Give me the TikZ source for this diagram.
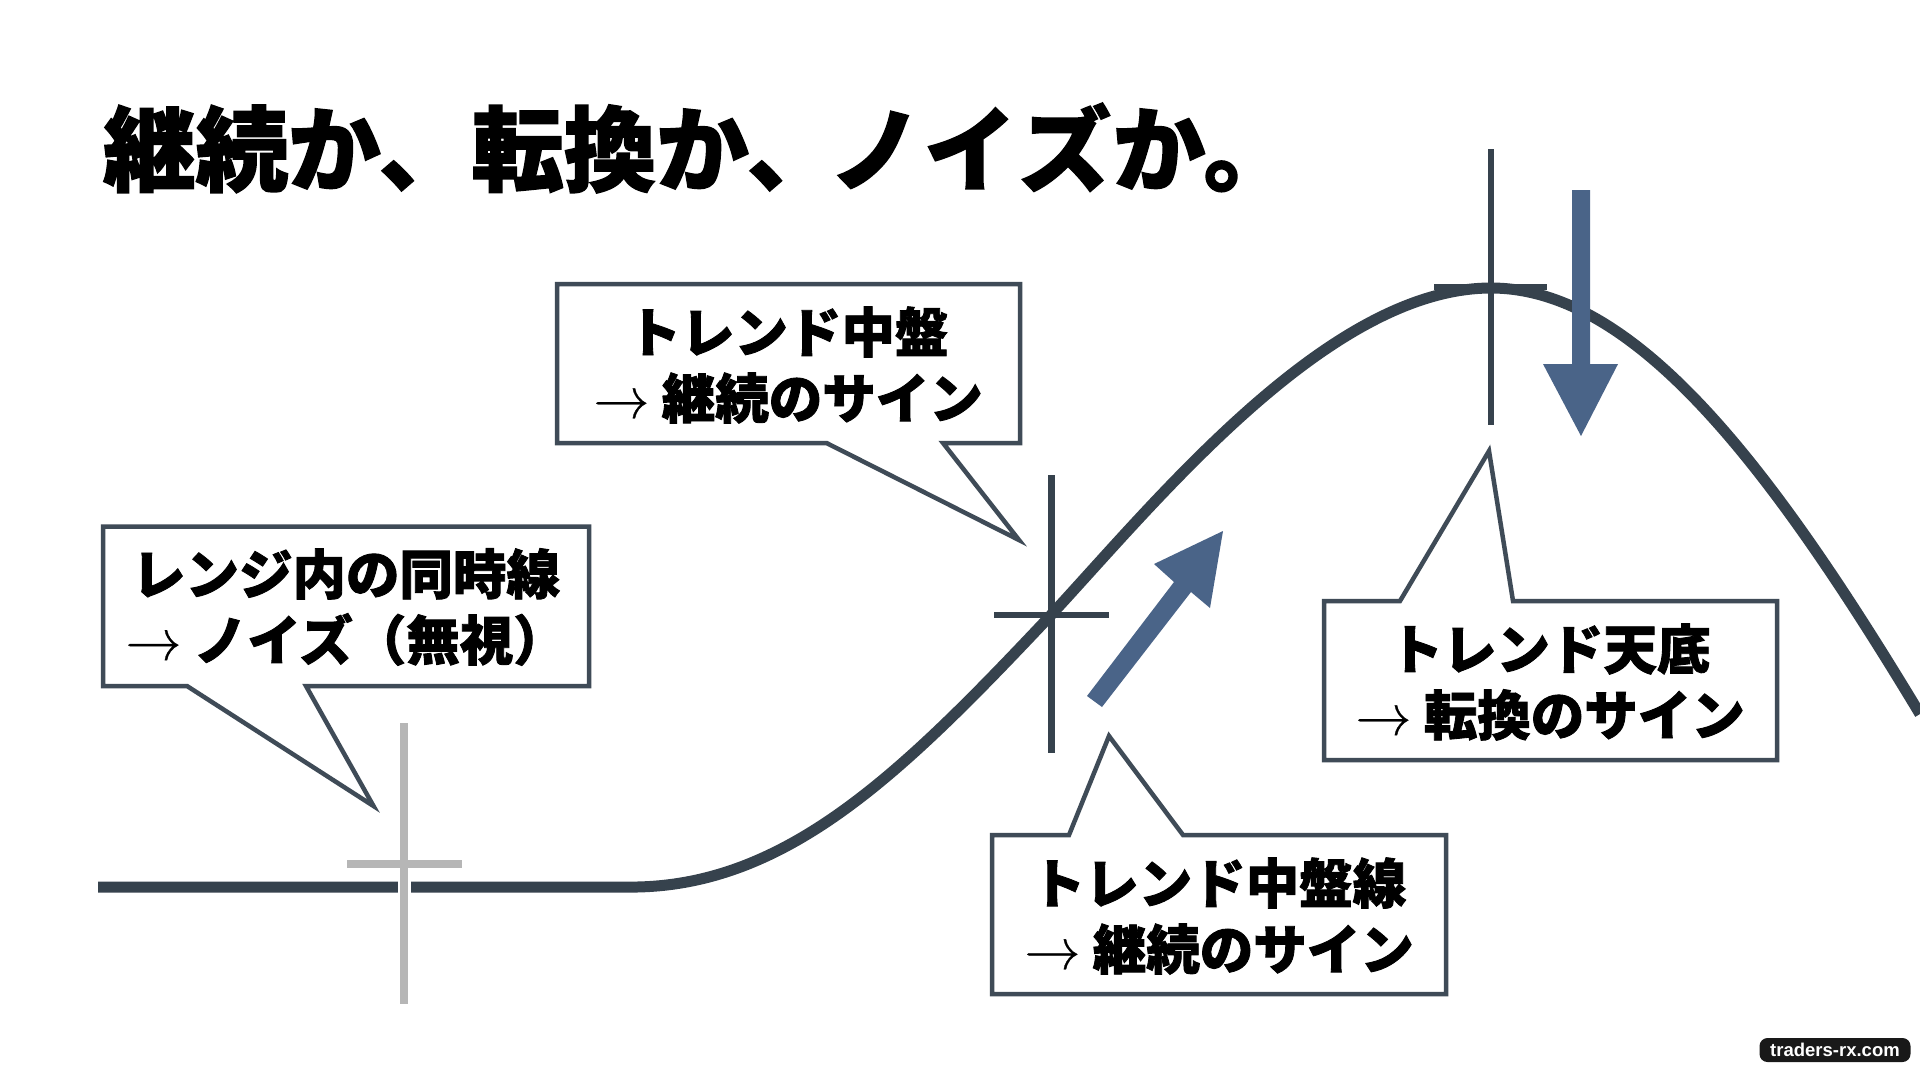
\documentclass[tikz,border=0pt]{standalone}
\usepackage{fontspec}
\setmainfont{Liberation Sans}
\newfontfamily\jpbold[FakeBold=1.6]{Noto Sans CJK JP Black}
\newfontfamily\arrowfont[FakeBold=0.5]{Latin Modern Roman}
\definecolor{ink}{HTML}{36424D}
\definecolor{boxline}{HTML}{3F4B57}
\definecolor{grayline}{HTML}{B6B6B6}
\definecolor{bluearrow}{HTML}{4A6488}
\tikzset{
  cbox/.style={draw=boxline,line width=4.5pt,fill=white,line join=miter},
  ctext/.style={font=\jpbold\fontsize{53.5}{66}\selectfont,align=center,text=black,inner sep=0pt},
  cross/.style={draw=ink,line width=6.5pt},
  graycross/.style={draw=grayline,line width=7.5pt},
  halo/.style={draw=white,line width=13pt},
  curve/.style={draw=ink,line width=11pt},
  blue/.style={fill=bluearrow,draw=none}
}
\newcommand{\ar}{{\arrowfont\fontsize{60}{66}\selectfont →}}
\begin{document}
\begin{tikzpicture}[x=1pt,y=-1pt]
\useasboundingbox[fill=white] (0,0) rectangle (1920,1072);

% curve
\draw[curve] (98,887) -- (637,887)
  .. controls (790,884) and (905,770) .. (1051,615)
  .. controls (1160,497) and (1330,288) .. (1491,288)
  .. controls (1635,288) and (1770,465) .. (1920,714);

% crosshairs
\draw[halo] (404,876) -- (404,899);
\draw[graycross] (404,723) -- (404,1004);
\draw[graycross] (347,864) -- (462,864);
\draw[cross] (1051.5,475) -- (1051.5,753);
\draw[cross] (994,615) -- (1109,615);
\draw[cross] (1491,149) -- (1491,425);
\draw[cross] (1434,287) -- (1547,287);

% block arrows
\fill[blue] (1087,696) -- (1102,707) -- (1191,592) -- (1210,608) -- (1223,531) -- (1154,564) -- (1174,582) -- cycle;
\fill[blue] (1572,190) -- (1590,190) -- (1590,364) -- (1618,364) -- (1581,436) -- (1543,364) -- (1572,364) -- cycle;

% callouts
\draw[cbox] (103,526.5) -- (589,526.5) -- (589,686) -- (306,686) -- (373.5,806) -- (187,686) -- (103,686) -- cycle;
\draw[cbox] (557,284) -- (1020,284) -- (1020,443) -- (943,443) -- (1019,540) -- (826.5,443) -- (557,443) -- cycle;
\draw[cbox] (1324,601) -- (1400,601) -- (1489,451) -- (1513,601) -- (1777,601) -- (1777,760) -- (1324,760) -- cycle;
\draw[cbox] (992,835) -- (1069,835) -- (1109,736) -- (1183,835) -- (1446,835) -- (1446,994) -- (992,994) -- cycle;

\node[ctext] (t1) at (346,607) {レンジ内の同時線\\\ar{} ノイズ（無視）};
\node[ctext] (t2) at (788,365) {トレンド中盤\\\ar{} 継続のサイン};
\node[ctext] (t3) at (1550,682) {トレンド天底\\\ar{} 転換のサイン};
\node[ctext] (t4) at (1219,916) {トレンド中盤線\\\ar{} 継続のサイン};

% title
\node[font=\jpbold\fontsize{92.5}{100}\selectfont,anchor=west,inner sep=0pt,text=black] (title) at (103,148) {継続か、転換か、\kern-10ptノ\kern2pt イ\kern2pt ズ\kern2pt か。};

% watermark
\node[fill=black!90,text=white,rounded corners=8pt,minimum width=151pt,minimum height=24pt,inner sep=0pt,font=\bfseries\fontsize{18.5}{20}\selectfont] (wm) at (1835,1050) {traders-rx.com};
\end{tikzpicture}
\end{document}
